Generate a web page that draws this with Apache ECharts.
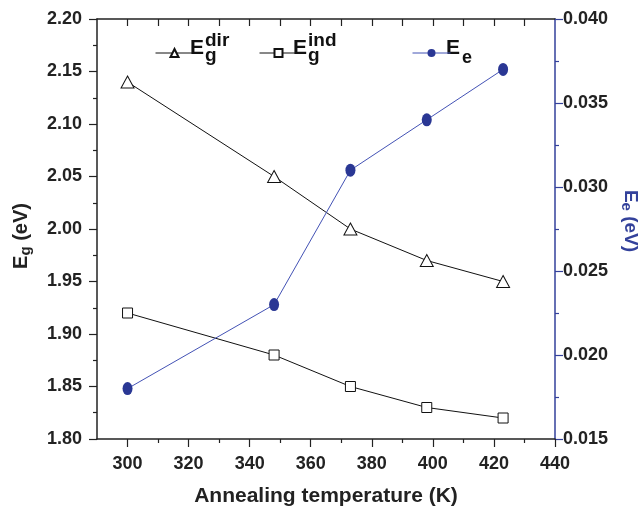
<!DOCTYPE html>
<html>
<head>
<meta charset="utf-8">
<script src="https://cdn.jsdelivr.net/npm/echarts@6/dist/echarts.min.js"></script>
<style>
  html, body { margin: 0; padding: 0; background: #fff; }
  #chart { width: 644px; height: 507px; }
</style>
</head>
<body>
<div id="chart"></div>
<script>
  // annealing temperatures (K)
  var temps = [300, 348, 373, 398, 423]
  var egDir = [2.14, 2.05, 2.00, 1.97, 1.95]
  var egInd = [1.92, 1.88, 1.85, 1.83, 1.82]
  var ee = [0.018, 0.023, 0.031, 0.034, 0.037]

  var xMajor = [300, 320, 340, 360, 380, 400, 420, 440]
  var xMinor = [310, 330, 350, 370, 390, 410, 430]
  var xTop = [300, 310, 320, 330, 340, 350, 360, 370, 380, 390, 400, 410, 420, 430]

  var font = "'Liberation Sans', Arial, sans-serif"
  var blue = '#33419b'
  var axisColor = '#222'

  function pairs(ys) {
    return temps.map(function (t, i) { return [t, ys[i]] })
  }

  function txt(str, left, top, size) {
    return {type: 'text', left: left, top: top, style: {text: str, font: 'bold ' + size + 'px ' + font, fill: '#111'}}
  }

  var labelStyle = {fontFamily: font, fontWeight: 'bold', fontSize: 18, color: axisColor}
  var legendBase = {top: 43, itemWidth: 38, itemHeight: 10, lineStyle: {width: 1}, formatter: function () { return '' }}

  var chart = echarts.init(document.getElementById('chart'))
  var option = {
    backgroundColor: '#fff',
    animation: false,
    grid: {left: 97, right: 89, top: 19, bottom: 68, outerBoundsMode: 'none', containLabel: false},
    legend: [
      Object.assign({data: ['Egdir'], left: 150}, legendBase),
      Object.assign({data: ['Egind'], left: 254}, legendBase),
      Object.assign({data: ['Ee'], left: 407}, legendBase)
    ],
    // legend labels with stacked sub/superscripts
    graphic: [
      txt('E', 190, 38, 21), txt('g', 205, 46, 19), txt('dir', 205, 31, 19),
      txt('E', 293, 38, 21), txt('g', 308, 46, 19), txt('ind', 308, 31, 19),
      txt('E', 446, 38, 21), txt('e', 462, 49, 18)
    ],
    xAxis: [
      {
        type: 'value', position: 'bottom', min: 290, max: 440,
        name: 'Annealing temperature (K)', nameLocation: 'middle', nameGap: 47,
        nameTextStyle: {fontFamily: font, fontWeight: 'bold', fontSize: 21, color: axisColor},
        axisLine: {lineStyle: {color: axisColor, width: 1.5}},
        axisTick: {customValues: xMajor, length: 8, lineStyle: {color: axisColor, width: 1.2}},
        axisLabel: Object.assign({customValues: xMajor, margin: 16}, labelStyle),
        splitLine: {show: false}
      },
      {
        type: 'value', position: 'bottom', min: 290, max: 440,
        axisLine: {show: false},
        axisTick: {customValues: xMinor, length: 4, lineStyle: {color: axisColor, width: 1.2}},
        axisLabel: {show: false},
        splitLine: {show: false}
      },
      {
        type: 'value', position: 'top', min: 290, max: 440,
        axisLine: {lineStyle: {color: axisColor, width: 1.5}},
        axisTick: {customValues: xTop, inside: true, length: 7, lineStyle: {color: axisColor, width: 1.2}},
        axisLabel: {show: false},
        splitLine: {show: false}
      }
    ],
    yAxis: [
      {
        type: 'value', position: 'left', min: 1.8, max: 2.2, interval: 0.05,
        name: '{a|E}{b|g}{a| (eV)}', nameLocation: 'middle', nameGap: 64, nameRotate: 90,
        nameTextStyle: {padding: [0, 14, 0, 0], rich: {
          a: {fontFamily: font, fontWeight: 'bold', fontSize: 20, color: axisColor},
          b: {fontFamily: font, fontWeight: 'bold', fontSize: 15, color: axisColor, padding: [9, 0, 0, 0]}
        }},
        axisLine: {lineStyle: {color: axisColor, width: 1.5}},
        axisTick: {length: 8, lineStyle: {color: axisColor, width: 1.2}},
        minorTick: {show: true, splitNumber: 2, length: 4, lineStyle: {color: axisColor, width: 1.2}},
        axisLabel: Object.assign({margin: 15, formatter: function (v) { return v.toFixed(2) }}, labelStyle),
        splitLine: {show: false}
      },
      {
        type: 'value', position: 'right', min: 0.015, max: 0.04, interval: 0.005,
        name: '{a|E}{b|e}{a| (eV)}', nameLocation: 'middle', nameGap: 62, nameRotate: -90,
        nameTextStyle: {padding: [0, 16, 0, 0], rich: {
          a: {fontFamily: font, fontWeight: 'bold', fontSize: 19, color: blue},
          b: {fontFamily: font, fontWeight: 'bold', fontSize: 15, color: blue, padding: [8, 0, 0, 0]}
        }},
        axisLine: {lineStyle: {color: blue, width: 1.5}},
        axisTick: {length: 8, lineStyle: {color: blue, width: 1.2}},
        minorTick: {show: true, splitNumber: 2, length: 4, lineStyle: {color: blue, width: 1.2}},
        axisLabel: Object.assign({margin: 8, formatter: function (v) { return v.toFixed(3) }}, labelStyle),
        splitLine: {show: false}
      }
    ],
    series: [
      {
        name: 'Egdir', type: 'line', xAxisIndex: 0, yAxisIndex: 0,
        data: pairs(egDir),
        symbol: 'triangle', symbolSize: [13, 12],
        lineStyle: {color: '#111', width: 1},
        itemStyle: {color: '#fff', borderColor: '#111', borderWidth: 1}
      },
      {
        name: 'Egind', type: 'line', xAxisIndex: 0, yAxisIndex: 0,
        data: pairs(egInd),
        symbol: 'rect', symbolSize: 10,
        lineStyle: {color: '#111', width: 1},
        itemStyle: {color: '#fff', borderColor: '#111', borderWidth: 1}
      },
      {
        name: 'Ee', type: 'line', xAxisIndex: 0, yAxisIndex: 1,
        data: pairs(ee),
        symbol: 'circle', symbolSize: [10, 13],
        lineStyle: {color: '#4352b5', width: 1},
        itemStyle: {color: '#2a3794'}
      }
    ]
  }
  chart.setOption(option)
</script>
</body>
</html>
